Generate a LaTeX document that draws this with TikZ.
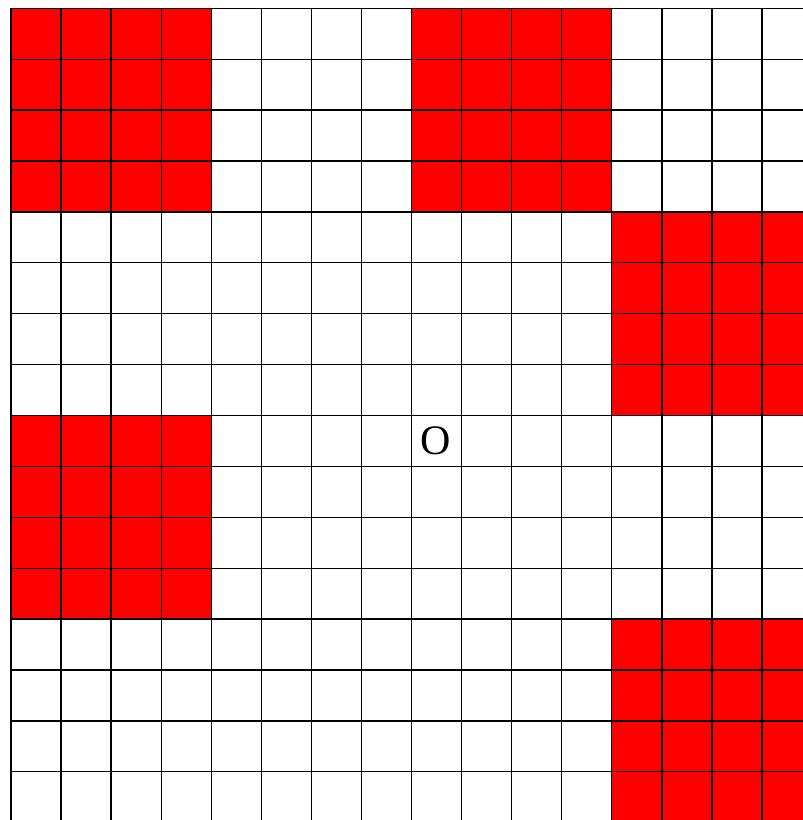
\documentclass[tikz,border=0pt]{standalone}
\usepackage{fontspec}
\setmainfont{Liberation Serif}
\begin{document}
\begin{tikzpicture}[x=1pt,y=-1pt,
  cellfill/.style={fill=red},
  gridline/.style={draw=black,line width=1.3pt},
  lbl/.style={font=\fontsize{42}{42}\selectfont,inner sep=0pt}]
\useasboundingbox (0,0) rectangle (803,820);
\fill[white] (0,0) rectangle (803,820);
\begin{scope}
\clip (0,0) rectangle (803,820);
\def\cw{50.07}
\def\ch{50.9}
\def\xo{11}
\def\yo{8.3}
% red blocks: (col, row) of top-left cell, each 4x4
\foreach \c/\r in {0/0, 8/0, 12/4, 0/8, 12/12}{
  \fill[cellfill] ({\xo+\c*\cw},{\yo+\r*\ch}) rectangle ({\xo+(\c+4)*\cw},{\yo+(\r+4)*\ch});
}
\foreach \i in {0,...,16}{
  \draw[gridline] ({\xo+\i*\cw},\yo) -- ({\xo+\i*\cw},{\yo+16*\ch});
  \draw[gridline] (\xo,{\yo+\i*\ch}) -- ({\xo+16*\cw},{\yo+\i*\ch});
}
\end{scope}
\node[lbl] (o) at (436,440.5) {O};
\end{tikzpicture}
\end{document}
